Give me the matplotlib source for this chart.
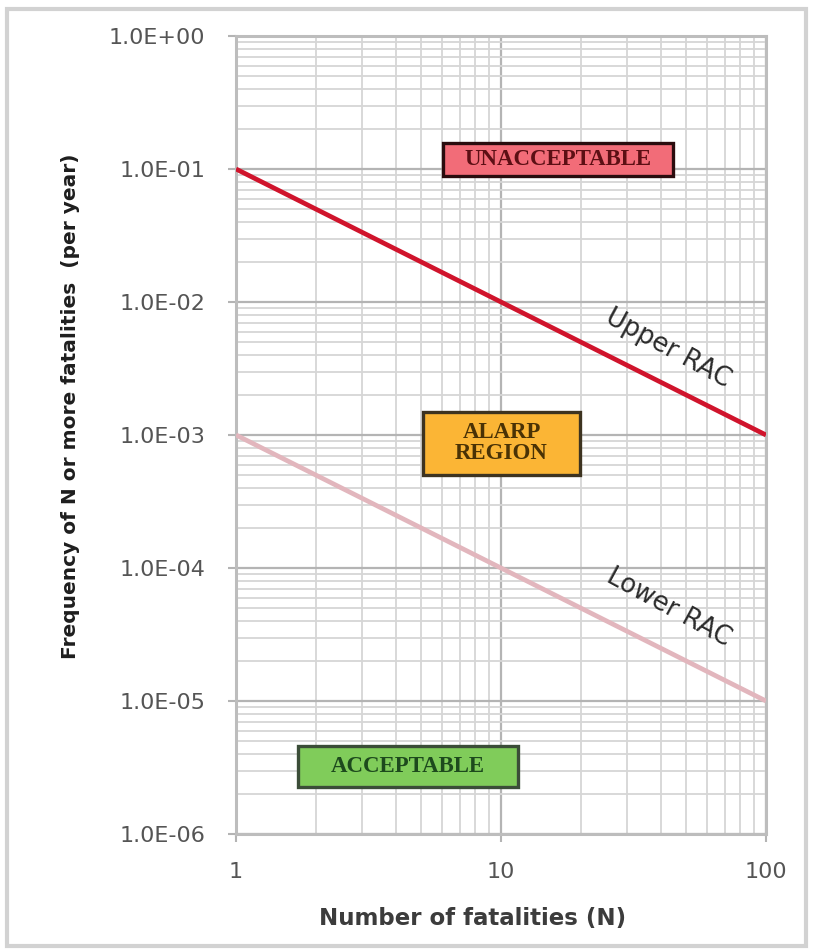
import matplotlib
matplotlib.use("Agg")
import matplotlib.pyplot as plt
from matplotlib.patches import Rectangle
from matplotlib.ticker import LogLocator, FixedLocator, NullFormatter

# ---- data ----
n_points = [1, 100]
upper_rac = [1e-1, 1e-3]
lower_rac = [1e-3, 1e-5]
x_ticks = [1, 10, 100]
x_tick_labels = ["1", "10", "100"]
y_ticks = [1e-6, 1e-5, 1e-4, 1e-3, 1e-2, 1e-1, 1e0]
y_tick_labels = ["1.0E-06", "1.0E-05", "1.0E-04", "1.0E-03", "1.0E-02", "1.0E-01", "1.0E+00"]
region_labels = ["UNACCEPTABLE", "ALARP\nREGION", "ACCEPTABLE"]
line_labels = ["Upper RAC", "Lower RAC"]

W, H = 813, 952
fig = plt.figure(figsize=(W / 100, H / 100), dpi=100)
fig.patch.set_facecolor("white")

# outer frame
fig.patches.append(Rectangle((7 / W, 1 - 946 / H), (806 - 7) / W, (946 - 9) / H,
                             transform=fig.transFigure, fill=False,
                             edgecolor="#d2d2d2", linewidth=3.0, zorder=0))

ax = fig.add_axes([236 / W, 1 - 834 / H, (766 - 236) / W, (834 - 36) / H])
ax.set_xscale("log")
ax.set_yscale("log")
ax.set_xlim(1, 100)
ax.set_ylim(1e-6, 1)

ax.xaxis.set_major_locator(FixedLocator(x_ticks))
ax.set_xticklabels(x_tick_labels)
ax.yaxis.set_major_locator(FixedLocator(y_ticks))
ax.set_yticklabels(y_tick_labels)
ax.xaxis.set_minor_locator(LogLocator(base=10, subs=range(2, 10)))
ax.yaxis.set_minor_locator(LogLocator(base=10, subs=range(2, 10), numticks=20))
ax.xaxis.set_minor_formatter(NullFormatter())
ax.yaxis.set_minor_formatter(NullFormatter())

ax.grid(which="major", color="#b4b4b4", linewidth=1.6, zorder=0)
ax.grid(which="minor", color="#d6d6d6", linewidth=1.3, zorder=0)
ax.set_axisbelow(True)

ax.tick_params(which="major", length=6, width=1.5, color="#b4b4b4",
               labelsize=16, labelcolor="#555555", direction="out")
ax.tick_params(axis="y", which="major", pad=16)
ax.tick_params(axis="x", which="major", pad=14)
ax.tick_params(which="minor", length=0)

for s in ax.spines.values():
    s.set_color("#bdbdbd")
    s.set_linewidth(2.2)

# lines
ax.plot(n_points, upper_rac, color="#d0142c", linewidth=3.4, solid_capstyle="butt", zorder=3)
ax.plot(n_points, lower_rac, color="#e2b6bd", linewidth=3.4, solid_capstyle="butt", zorder=3)

# line labels
ax.text(0.815, 0.608, line_labels[0], transform=ax.transAxes, rotation=-28.5,
        ha="center", va="center", fontsize=18.5, color="#2b2b2b", zorder=4)
ax.text(0.817, 0.284, line_labels[1], transform=ax.transAxes, rotation=-28.5,
        ha="center", va="center", fontsize=18.5, color="#2b2b2b", zorder=4)

# region boxes
boxes = [
    (0.3906, 0.8246, 0.8245 - 0.3906, 0.8659 - 0.8246, "#f26c78", "#2a0c0e", "#5c0f14"),
    (0.3528, 0.4499, 0.6491 - 0.3528, 0.5288 - 0.4499, "#fbb535", "#3d3320", "#4a3205"),
    (0.1170, 0.0589, 0.5320 - 0.1170, 0.1103 - 0.0589, "#80cc5a", "#3b4d38", "#1d4a1d"),
]
for (x0, y0, w, h, fc, ec, tc), lab in zip(boxes, region_labels):
    ax.add_patch(Rectangle((x0, y0), w, h, transform=ax.transAxes, facecolor=fc,
                           edgecolor=ec, linewidth=2.4, zorder=5))
    ax.text(x0 + w / 2, y0 + h / 2, lab, transform=ax.transAxes, ha="center",
            va="center", fontsize=16.5, family="Liberation Serif", fontweight="bold",
            color=tc, linespacing=1.0, zorder=6)

# axis labels
fig.text(71 / W, 1 - 406 / H, "Frequency of N or more fatalities  (per year)",
         rotation=90, ha="center", va="center", fontsize=14.5, fontweight="bold",
         color="#1e1e1e")
fig.text(473 / W, 1 - 918 / H, "Number of fatalities (N)", ha="center", va="center",
         fontsize=16.5, fontweight="bold", color="#3c3c3c")

fig.savefig("out.png", dpi=100, facecolor="white")
